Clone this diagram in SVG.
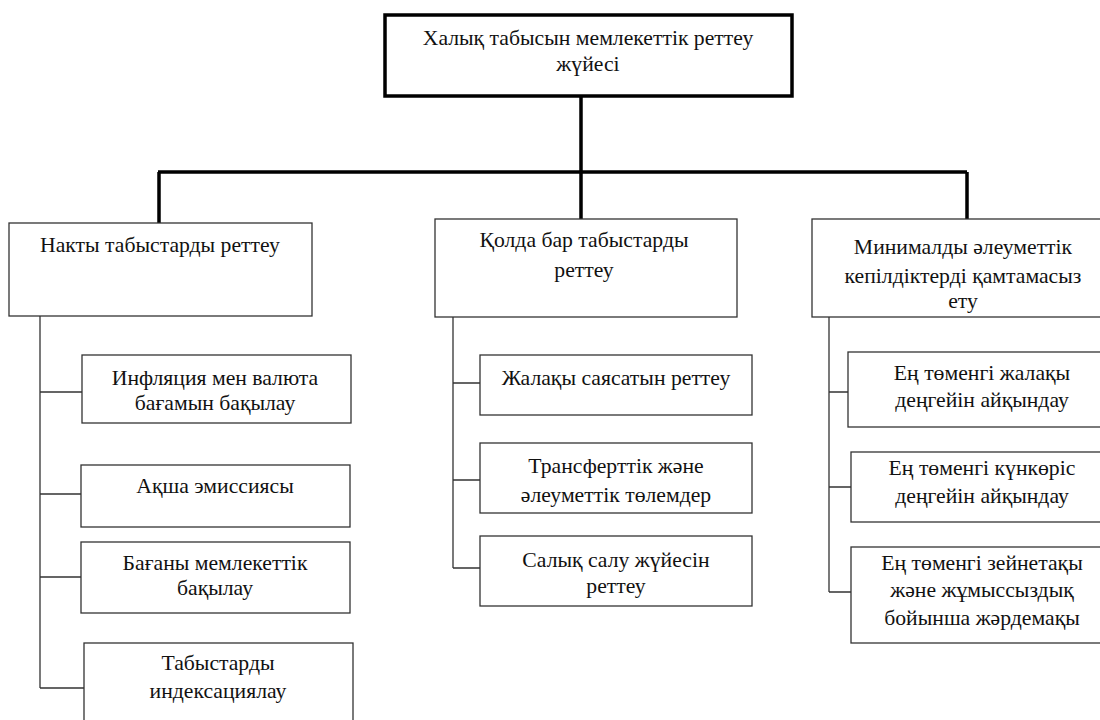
<svg xmlns="http://www.w3.org/2000/svg" width="1100" height="720" viewBox="0 0 1100 720">
<style>
  text { font-family: 'Liberation Serif', 'Times New Roman', 'DejaVu Serif', serif; font-size: 21.7px; fill: #111; text-anchor: middle; }
  .box { fill: #fff; stroke: #333; stroke-width: 1.3; }
  .root { fill: #fff; stroke: #000; stroke-width: 3.5; }
  .thick { stroke: #000; stroke-width: 3.5; fill: none; }
  .thin { stroke: #333; stroke-width: 1.3; fill: none; }
</style>
<rect width="1100" height="720" fill="#fff"/>
<g id="connectors">
  <path class="thick" d="M581 96 V172 M158 172 H967 M159 172 V223 M581 172 V219 M967 172 V219"/>
  <path class="thin" d="M40 316 V688 M40 392 H82 M40 494 H81 M40 577 H81 M40 688 H84"/>
  <path class="thin" d="M453 317 V568 M453 383 H480 M453 480 H480 M453 568 H480"/>
  <path class="thin" d="M829 317 V592 M829 392 H848 M829 487 H851 M829 592 H851"/>
</g>
<g id="root">
  <rect class="root" x="385" y="15" width="407" height="81"/>
  <text x="588" y="45">Халық табысын мемлекеттік реттеу</text>
  <text x="588" y="71">жүйесі</text>
</g>
<g id="n1">
  <rect class="box" x="9" y="223" width="303" height="93"/>
  <text x="160" y="252">Накты табыстарды реттеу</text>
</g>
<g id="n2">
  <rect class="box" x="435" y="219" width="302" height="98"/>
  <text x="584" y="247">Қолда бар табыстарды</text>
  <text x="584" y="277">реттеу</text>
</g>
<g id="n3">
  <rect class="box" x="812" y="219" width="302" height="98"/>
  <text x="963" y="254">Минималды әлеуметтік</text>
  <text x="963" y="283">кепілдіктерді қамтамасыз</text>
  <text x="963" y="308">ету</text>
</g>
<g id="n1a">
  <rect class="box" x="82" y="355" width="269" height="68"/>
  <text x="215" y="385">Инфляция мен валюта</text>
  <text x="215" y="410">бағамын бақылау</text>
</g>
<g id="n1b">
  <rect class="box" x="81" y="465" width="269" height="62"/>
  <text x="215" y="493">Ақша эмиссиясы</text>
</g>
<g id="n1c">
  <rect class="box" x="81" y="542" width="269" height="71"/>
  <text x="215" y="570">Бағаны мемлекеттік</text>
  <text x="215" y="595">бақылау</text>
</g>
<g id="n1d">
  <rect class="box" x="84" y="643" width="269" height="90"/>
  <text x="218" y="670">Табыстарды</text>
  <text x="218" y="698">индексациялау</text>
</g>
<g id="n2a">
  <rect class="box" x="480" y="355" width="272" height="60"/>
  <text x="616" y="385">Жалақы саясатын реттеу</text>
</g>
<g id="n2b">
  <rect class="box" x="480" y="443" width="272" height="70"/>
  <text x="616" y="473">Трансферттік және</text>
  <text x="616" y="502">әлеуметтік төлемдер</text>
</g>
<g id="n2c">
  <rect class="box" x="480" y="536" width="272" height="70"/>
  <text x="616" y="567">Салық салу жүйесін</text>
  <text x="616" y="593">реттеу</text>
</g>
<g id="n3a">
  <rect class="box" x="848" y="352" width="265" height="75"/>
  <text x="982" y="380">Ең төменгі жалақы</text>
  <text x="982" y="407">деңгейін айқындау</text>
</g>
<g id="n3b">
  <rect class="box" x="851" y="452" width="262" height="70"/>
  <text x="982" y="475">Ең төменгі күнкөріс</text>
  <text x="982" y="503">деңгейін айқындау</text>
</g>
<g id="n3c">
  <rect class="box" x="851" y="547" width="262" height="96"/>
  <text x="982" y="570">Ең төменгі зейнетақы</text>
  <text x="982" y="597">және жұмыссыздық</text>
  <text x="982" y="625">бойынша жәрдемақы</text>
</g>
</svg>
